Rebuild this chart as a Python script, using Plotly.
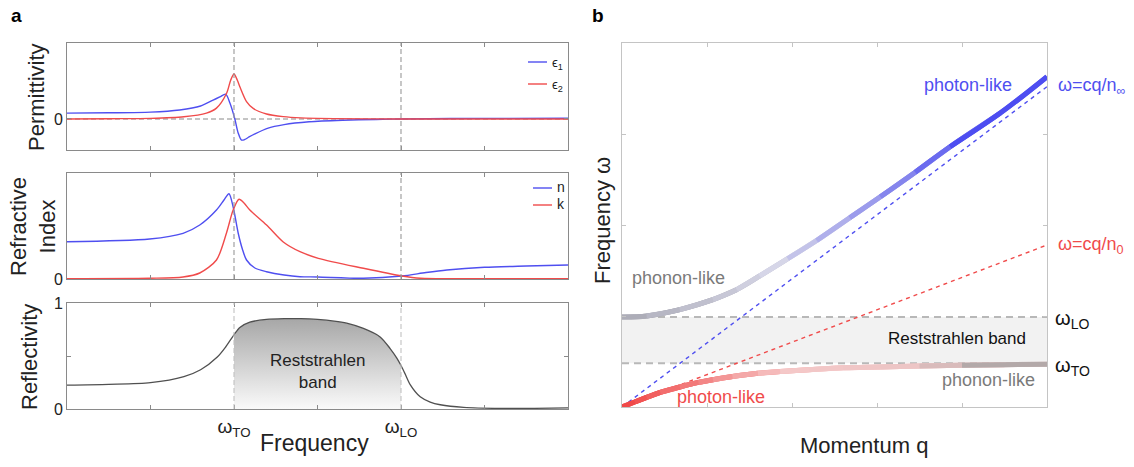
import plotly.graph_objects as go

W, H = 1134, 467
FONT = "Arial, Liberation Sans, Helvetica, sans-serif"

# ---------------- panel a data ----------------
omega_TO = 2.0
omega_LO = 4.0
freq_tickvals = [1, 2, 3, 4, 5]
freq_ticktext = ["", "ω<sub>TO</sub>", "", "ω<sub>LO</sub>", ""]

eps1_x = [0, 0.5, 1.0, 1.35, 1.6, 1.75, 1.83, 1.9, 1.95, 2.01, 2.05, 2.09, 2.13, 2.18, 2.25, 2.4, 2.6, 2.9, 3.3, 3.7, 4.0, 4.6, 5.3, 6.0]
eps1_y = [0.19, 0.2, 0.22, 0.29, 0.42, 0.61, 0.71, 0.80, 0.52, 0.0, -0.45, -0.68, -0.66, -0.58, -0.48, -0.3, -0.18, -0.09, -0.04, -0.015, 0.0, 0.015, 0.02, 0.025]

eps2_x = [0, 0.5, 1.0, 1.4, 1.67, 1.79, 1.91, 1.96, 2.0, 2.04, 2.07, 2.15, 2.23, 2.39, 2.59, 2.8, 3.2, 4.0, 5.0, 6.0]
eps2_y = [0.0, 0.01, 0.02, 0.07, 0.19, 0.35, 0.82, 1.25, 1.45, 1.25, 1.04, 0.56, 0.34, 0.16, 0.075, 0.035, 0.012, 0.0, 0.0, 0.0]

n_x = [0, 0.99, 1.39, 1.59, 1.79, 1.88, 1.94, 1.99, 2.05, 2.1, 2.15, 2.25, 2.39, 2.6, 2.79, 3.0, 3.55, 4.01, 4.3, 4.55, 5.0, 5.5, 6.0]
n_y = [0.373, 0.40, 0.457, 0.54, 0.69, 0.79, 0.853, 0.72, 0.46, 0.30, 0.19, 0.11, 0.073, 0.04, 0.023, 0.02, 0.007, 0.03, 0.065, 0.09, 0.117, 0.13, 0.14]

k_x = [0, 0.99, 1.39, 1.59, 1.79, 1.91, 1.99, 2.06, 2.12, 2.19, 2.39, 2.59, 2.79, 3.01, 3.55, 4.01, 4.23, 5.0, 6.0]
k_y = [0.003, 0.007, 0.02, 0.06, 0.19, 0.46, 0.69, 0.797, 0.76, 0.69, 0.54, 0.37, 0.273, 0.207, 0.107, 0.03, 0.007, 0.003, 0.002]

R_x = [0, 0.5, 1.0, 1.4, 1.6, 1.8, 1.9, 2.0, 2.07, 2.19, 2.39, 2.6, 2.8, 3.0, 3.2, 3.35, 3.55, 3.75, 3.87, 3.95, 4.0, 4.05, 4.11, 4.23, 4.35, 4.47, 4.75, 5.2, 5.6, 6.0]
R_y = [0.225, 0.232, 0.248, 0.305, 0.37, 0.49, 0.585, 0.70, 0.77, 0.82, 0.845, 0.852, 0.852, 0.845, 0.83, 0.81, 0.76, 0.68, 0.57, 0.48, 0.41, 0.33, 0.23, 0.115, 0.065, 0.04, 0.015, 0.005, 0.006, 0.01]

# ---------------- panel b data ----------------
q_light = [0, 5]
w_light_inf = [0, 3.52]
w_light_0 = [0, 1.78]
band_TO = 0.48
band_LO = 0.99

up_q = [0, 0.29, 0.68, 1.07, 1.35, 1.62, 1.95, 2.29, 2.68, 3.04, 3.45, 3.86, 4.45, 5.0]
up_w = [0.99, 1.0, 1.07, 1.18, 1.29, 1.44, 1.63, 1.83, 2.08, 2.31, 2.58, 2.86, 3.23, 3.63]

low_q = [0, 0.15, 0.29, 0.45, 0.68, 0.9, 1.07, 1.3, 1.6, 1.86, 2.2, 2.6, 3.04, 3.5, 4.0, 4.5, 5.0]
low_w = [0, 0.055, 0.105, 0.16, 0.22, 0.27, 0.30, 0.335, 0.37, 0.39, 0.41, 0.43, 0.44, 0.45, 0.46, 0.465, 0.47]

# ---------------- styling helpers ----------------
BLUE = "#4f4ff0"
RED = "#f04b4b"


def px(x):
    return x / W


def py(y):
    return 1 - y / H


def ramp(stops, t):
    for (t0, c0), (t1, c1) in zip(stops[:-1], stops[1:]):
        if t0 <= t <= t1:
            f = (t - t0) / (t1 - t0) if t1 > t0 else 0
            c = [round(a + (b - a) * f) for a, b in zip(c0, c1)]
            return "rgb(%d,%d,%d)" % tuple(c)
    return "rgb(%d,%d,%d)" % tuple(stops[-1][1])


fig = go.Figure()

# panel a - permittivity
fig.add_trace(go.Scatter(x=eps1_x, y=eps1_y, mode="lines", line=dict(color=BLUE, width=1.4, shape="spline", smoothing=0.8),
                         xaxis="x", yaxis="y", name="ϵ1", showlegend=False))
fig.add_trace(go.Scatter(x=eps2_x, y=eps2_y, mode="lines", line=dict(color=RED, width=1.4, shape="spline", smoothing=0.8),
                         xaxis="x", yaxis="y", name="ϵ2", showlegend=False))
# refractive index
fig.add_trace(go.Scatter(x=n_x, y=n_y, mode="lines", line=dict(color=BLUE, width=1.4, shape="spline", smoothing=0.8),
                         xaxis="x2", yaxis="y2", name="n", showlegend=False))
fig.add_trace(go.Scatter(x=k_x, y=k_y, mode="lines", line=dict(color=RED, width=1.4, shape="spline", smoothing=0.8),
                         xaxis="x2", yaxis="y2", name="k", showlegend=False))
# reflectivity fill (reststrahlen band)
fill_idx = [i for i, x in enumerate(R_x) if omega_TO <= x <= omega_LO]
fig.add_trace(go.Scatter(x=[R_x[i] for i in fill_idx], y=[R_y[i] for i in fill_idx], mode="lines",
                         line=dict(width=0, shape="spline", smoothing=0.8), fill="tozeroy",
                         fillgradient=dict(type="vertical", start=0, stop=0.86,
                                           colorscale=[[0, "#fafafa"], [1, "#a6a6a6"]]),
                         xaxis="x3", yaxis="y3", showlegend=False, hoverinfo="skip"))
fig.add_trace(go.Scatter(x=R_x, y=R_y, mode="lines", line=dict(color="#505050", width=1.3, shape="spline", smoothing=0.8),
                         xaxis="x3", yaxis="y3", name="R", showlegend=False))

# panel b - light lines
fig.add_trace(go.Scatter(x=q_light, y=w_light_inf, mode="lines", line=dict(color=BLUE, width=1.4, dash="4px,4px"),
                         xaxis="x4", yaxis="y4", showlegend=False))
fig.add_trace(go.Scatter(x=q_light, y=w_light_0, mode="lines", line=dict(color=RED, width=1.4, dash="4px,4px"),
                         xaxis="x4", yaxis="y4", showlegend=False))

# polariton branches drawn as colour-graded segments (each overlaps into the next to hide joints)
up_stops = [(0.0, (160, 160, 170)), (0.42, (215, 215, 232)), (1.0, (62, 62, 242))]
low_stops = [(0.0, (240, 60, 60)), (0.45, (245, 200, 200)), (0.8, (236, 196, 196)), (1.0, (160, 160, 160))]
for qs, ws, stops in ((up_q, up_w, up_stops), (low_q, low_w, low_stops)):
    for i in range(len(qs) - 1):
        t = (qs[i] + qs[i + 1]) / 2 / q_light[-1]
        lo = max(i - 1, 0)
        fig.add_trace(go.Scatter(x=qs[lo:i + 3], y=ws[lo:i + 3], mode="lines",
                                 line=dict(color=ramp(stops, t), width=5, shape="spline", smoothing=1.0),
                                 xaxis="x4", yaxis="y4", showlegend=False, hoverinfo="skip"))

# ---------------- axes ----------------
FRAME_A = "#8a8a8a"
FRAME_B = "#c4c4c4"
xa_dom = [px(67), px(568)]
common_x = dict(range=[0, 6], domain=xa_dom, showgrid=False, zeroline=False, showline=True, linecolor=FRAME_A,
                linewidth=1, mirror="ticks", ticks="inside", ticklen=4, tickcolor=FRAME_A,
                tickvals=freq_tickvals, automargin=False)
common_y = dict(showgrid=False, zeroline=False, showline=True, linecolor=FRAME_A, linewidth=1, mirror="ticks",
                ticks="inside", ticklen=4, tickcolor=FRAME_A, tickfont=dict(size=16, color="#222", family=FONT),
                automargin=False)

layout = dict(
    width=W, height=H, autosize=False, margin=dict(l=0, r=0, t=0, b=0, pad=0, autoexpand=False),
    paper_bgcolor="white", plot_bgcolor="white", font=dict(family=FONT, color="#222"), showlegend=False,
    xaxis=dict(**common_x, anchor="y", showticklabels=False),
    yaxis=dict(**common_y, domain=[py(150), py(43)], range=[-1, 2.45], tickvals=[0], ticktext=["0"], anchor="x"),
    xaxis2=dict(**common_x, anchor="y2", showticklabels=False),
    yaxis2=dict(**common_y, domain=[py(279), py(173)], range=[0, 1.06], tickvals=[0], ticktext=["0"], anchor="x2"),
    xaxis3=dict(**common_x, anchor="y3", ticktext=freq_ticktext, tickfont=dict(size=19, color="#222", family=FONT)),
    yaxis3=dict(**common_y, domain=[py(409), py(303)], range=[0, 1], tickvals=[0, 0.5, 1], ticktext=["0", "", "1"],
                anchor="x3"),
    xaxis4=dict(range=[0, 5], domain=[px(622), px(1047)], anchor="y4", showgrid=False, zeroline=False, showline=True,
                linecolor=FRAME_B, linewidth=1, mirror="ticks", ticks="inside", ticklen=4, tickcolor=FRAME_B,
                tickvals=[1, 2, 3, 4], showticklabels=False, automargin=False),
    yaxis4=dict(range=[0, 4], domain=[py(407), py(43)], anchor="x4", showgrid=False, zeroline=False, showline=True,
                linecolor=FRAME_B, linewidth=1, mirror="ticks", ticks="inside", ticklen=4, tickcolor=FRAME_B,
                tickvals=[1, 2, 3], showticklabels=False, automargin=False),
)
fig.update_layout(**layout)

shapes = []
# vertical dashed lines at omega_TO / omega_LO
for xr, yr, col in (("x", "y domain", "#999999"), ("x2", "y2 domain", "#999999"), ("x3", "y3 domain", "#c2c2c2")):
    for xv in (omega_TO, omega_LO):
        shapes.append(dict(type="line", xref=xr, yref=yr, x0=xv, x1=xv, y0=0, y1=1,
                           line=dict(color=col, width=1.1, dash="5px,3px"), layer="above"))
# zero line permittivity
shapes.append(dict(type="line", xref="x domain", yref="y", x0=0, x1=1, y0=0, y1=0,
                   line=dict(color="#8a8a8a", width=1.2, dash="5px,3px"), layer="below"))
# reststrahlen band in panel b
shapes.append(dict(type="rect", xref="x4", yref="y4", x0=q_light[0], x1=q_light[-1], y0=band_TO, y1=band_LO,
                   fillcolor="#f2f2f2", line=dict(width=0), layer="below"))
for yv in (band_TO, band_LO):
    shapes.append(dict(type="line", xref="x4", yref="y4", x0=q_light[0], x1=q_light[-1], y0=yv, y1=yv,
                       line=dict(color="#b8b8b8", width=2, dash="7px,5px"), layer="below"))
# legend sample lines
for (x0, x1, y, c) in ((528, 547, 62, BLUE), (528, 547, 84, RED), (533, 552, 188, BLUE), (533, 552, 205, RED)):
    shapes.append(dict(type="line", xref="paper", yref="paper", x0=px(x0), x1=px(x1), y0=py(y), y1=py(y),
                       line=dict(color=c, width=1.4)))
fig.update_layout(shapes=shapes)


def ann(text, x, y, size, color="#222", xanchor="center", yanchor="middle", angle=0, bold=False, xref="paper",
        yref="paper", **kw):
    if bold:
        text = "<b>%s</b>" % text
    return dict(text=text, x=x, y=y, xref=xref, yref=yref, showarrow=False, xanchor=xanchor, yanchor=yanchor,
                textangle=angle, font=dict(size=size, color=color, family=FONT), **kw)


annotations = [
    ann("a", px(16), py(15), 19, color="#000", bold=True),
    ann("b", px(598), py(15), 19, color="#000", bold=True),
    ann("Permittivity", px(36), py(97), 22, angle=-90),
    ann("Refractive<br>Index", px(33), py(227), 22, angle=-90),
    ann("Reflectivity", px(29), py(357), 22, angle=-90),
    ann("Frequency", px(314), py(443), 23),
    ann("ϵ<sub>1</sub>", px(550), py(63), 13, xanchor="left"),
    ann("ϵ<sub>2</sub>", px(550), py(85), 13, xanchor="left"),
    ann("n", px(555), py(187), 14, xanchor="left"),
    ann("k", px(555), py(204), 14, xanchor="left"),
    ann("Reststrahlen<br>band", 3.0, 0.35, 17, xref="x3", yref="y3"),
    # panel b
    ann("Frequency ω", px(602), py(221), 22, angle=-90),
    ann("Momentum q", px(864), py(445), 22),
    ann("photon-like", 4.07, 3.54, 18, color=BLUE, xref="x4", yref="y4"),
    ann("ω=cq/n<sub>∞</sub>", q_light[-1], w_light_inf[-1], 18, color=BLUE, xanchor="left", xref="x4", yref="y4",
        xshift=9),
    ann("ω=cq/n<sub>0</sub>", q_light[-1], w_light_0[-1], 18, color=RED, xanchor="left", xref="x4", yref="y4",
        xshift=9),
    ann("ω<sub>LO</sub>", q_light[-1], band_LO, 20, color="#111", xanchor="left", xref="x4", yref="y4", xshift=6,
        yshift=-3),
    ann("ω<sub>TO</sub>", q_light[-1], band_TO, 20, color="#111", xanchor="left", xref="x4", yref="y4", xshift=6,
        yshift=-3),
    ann("Reststrahlen band", 3.94, 0.75, 17, color="#111", xref="x4", yref="y4"),
    ann("phonon-like", 0.67, 1.42, 18, color="#7a7a7a", xref="x4", yref="y4"),
    ann("phonon-like", 4.31, 0.30, 18, color="#7a7a7a", xref="x4", yref="y4"),
    ann("photon-like", 1.17, 0.11, 18, color=RED, xref="x4", yref="y4"),
]
fig.update_layout(annotations=annotations)

fig.write_html(
    "out.html",
    config={"responsive": False, "displayModeBar": False},
    post_script="document.body.style.margin='0';document.body.style.padding='0';document.body.style.overflow='hidden';",
)
